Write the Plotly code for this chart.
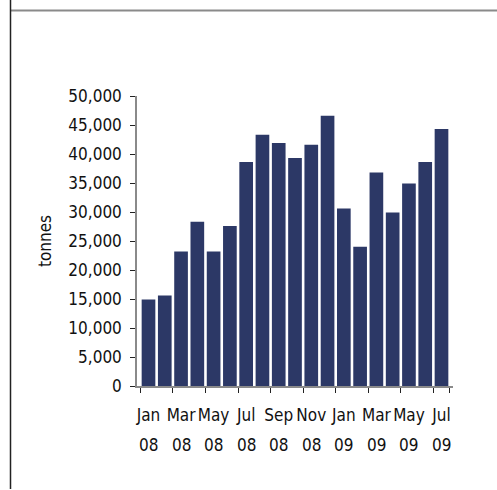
import plotly.graph_objects as go

months = ["Jan", "Feb", "Mar", "Apr", "May", "Jun", "Jul", "Aug", "Sep", "Oct", "Nov", "Dec",
          "Jan", "Feb", "Mar", "Apr", "May", "Jun", "Jul"]
years = ["08"] * 12 + ["09"] * 7
tonnes = [14900, 15600, 23200, 28300, 23200, 27600, 38600, 43300, 41900, 39300,
          41600, 46600, 30600, 24000, 36800, 29900, 34900, 38600, 44300]
y_ticks = list(range(0, 50001, 5000))

categories = [f"{m} {y}" for m, y in zip(months, years)]
label_idx = list(range(0, len(categories), 2))

W, H = 497, 490
ml, mr, mt, mb = 137, 44, 96, 104
pw, ph = W - ml - mr, H - mt - mb

FONT = "DejaVu Sans Condensed, DejaVu Sans, sans-serif"
FS = 17
TXT = "#111"
BAR = "#2c3866"

fig = go.Figure(go.Bar(x=categories, y=tonnes, marker=dict(color=BAR, line=dict(width=0))))

fig.update_layout(
    width=W, height=H,
    margin=dict(l=ml, r=mr, t=mt, b=mb),
    paper_bgcolor="white", plot_bgcolor="white",
    bargap=0.16,
    showlegend=False,
    font=dict(family=FONT, size=FS, color=TXT),
)

fig.update_xaxes(
    type="category",
    tickmode="array",
    tickvals=[categories[i] for i in label_idx],
    ticktext=[months[i] for i in label_idx],
    tickson="boundaries",
    tickangle=0,
    ticks="outside", ticklen=5, tickcolor="#222", tickwidth=1,
    showline=True, linecolor="#8a8a8a", linewidth=2,
    showgrid=False, zeroline=False,
    tickfont=dict(family=FONT, size=FS, color=TXT),
    ticklabelstandoff=13,
)

fig.update_yaxes(
    range=[0, 50000],
    tickvals=y_ticks,
    ticktext=[f"{v:,}" for v in y_ticks],
    ticks="outside", ticklen=5, tickcolor="#222", tickwidth=1,
    showline=True, linecolor="#8a8a8a", linewidth=1.5,
    showgrid=False, zeroline=False,
    tickfont=dict(family=FONT, size=FS, color=TXT),
    ticklabelstandoff=5,
    title=dict(text="tonnes", font=dict(family=FONT, size=FS, color=TXT), standoff=12),
)

# year row under month labels
for i in label_idx:
    fig.add_annotation(x=categories[i], xref="x", y=0, yref="paper",
                       text=years[i], showarrow=False, yanchor="top",
                       yshift=-47, font=dict(family=FONT, size=FS, color=TXT))

# frame lines (top and left), positioned in pixels relative to plot area
def px_x(px):
    return (px - ml) / pw

def px_y(py):
    return 1 - (py - mt) / ph

fig.add_shape(type="line", xref="paper", yref="paper",
              x0=px_x(10), x1=px_x(W), y0=px_y(10.5), y1=px_y(10.5),
              line=dict(color="#8a8a8a", width=2))
fig.add_shape(type="line", xref="paper", yref="paper",
              x0=px_x(10.5), x1=px_x(10.5), y0=px_y(0), y1=px_y(489),
              line=dict(color="#222", width=1.5))

fig.write_html("out.html")
